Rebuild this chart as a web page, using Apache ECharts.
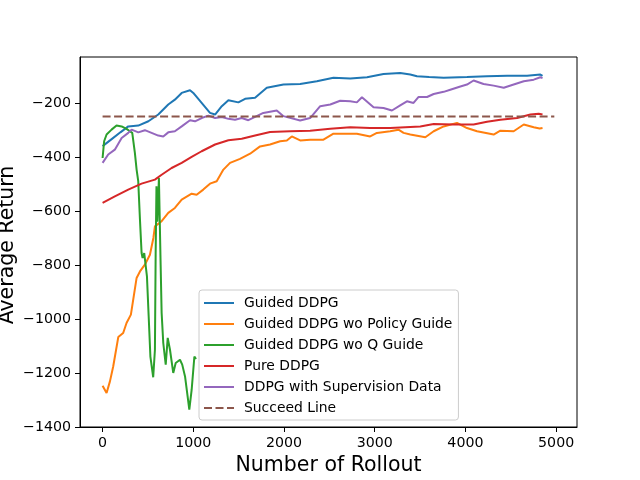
<!DOCTYPE html>
<html>
<head>
<meta charset="utf-8">
<script src="https://cdn.jsdelivr.net/npm/echarts@6/dist/echarts.min.js"></script>
<style>
  html, body { margin: 0; padding: 0; background: #fff; }
  #chart { width: 640px; height: 480px; }
</style>
</head>
<body>
<div id="chart"></div>
<script>
// tick labels
var xTicks = [0, 1000, 2000, 3000, 4000, 5000];
var yTicks = [-1400, -1200, -1000, -800, -600, -400, -200];

// Guided DDPG
var guidedX = [0, 100, 200, 283, 394, 505, 614, 724, 797, 872, 964, 1000, 1092, 1184, 1240, 1314, 1387, 1497, 1571, 1681, 1810, 1994, 2178, 2362, 2545, 2730, 2915, 3097, 3281, 3392, 3466, 3600, 3760, 4017, 4238, 4460, 4680, 4826, 4850];
var guidedY = [-360, -334, -308, -287, -284, -268, -243, -206, -188, -163, -153, -163, -200, -237, -243, -212, -190, -198, -185, -181, -144, -132, -130, -120, -107, -110, -105, -93, -89, -95, -101, -104, -107, -104, -101, -99, -99, -95, -100];

// Guided DDPG wo Policy Guide
var noPolicyX = [0, 44, 81, 117, 173, 227, 264, 312, 375, 412, 466, 522, 560, 577, 651, 724, 797, 872, 982, 1037, 1110, 1184, 1258, 1332, 1405, 1515, 1626, 1736, 1846, 1957, 2031, 2086, 2178, 2288, 2435, 2545, 2694, 2803, 2950, 3024, 3170, 3262, 3318, 3392, 3558, 3650, 3760, 3907, 4017, 4128, 4311, 4385, 4532, 4643, 4753, 4818, 4850];
var noPolicyY = [-1247, -1274, -1231, -1176, -1067, -1052, -1015, -984, -848, -824, -799, -762, -700, -657, -638, -607, -589, -558, -536, -540, -521, -499, -490, -447, -422, -407, -388, -361, -354, -342, -339, -324, -339, -336, -336, -314, -314, -314, -324, -311, -305, -299, -311, -317, -327, -305, -287, -274, -293, -305, -317, -303, -305, -280, -290, -295, -293];

// Guided DDPG wo Q Guide
var noQX = [0, 17, 44, 62, 99, 154, 210, 264, 301, 327, 356, 375, 393, 412, 430, 441, 448, 459, 470, 489, 508, 527, 558, 577, 585, 594, 604, 621, 640, 651, 669, 696, 718, 743, 779, 806, 853, 878, 909, 956, 982, 1012, 1030];
var noQY = [-404, -342, -317, -324, -299, -284, -287, -296, -305, -311, -385, -447, -490, -632, -756, -774, -780, -756, -756, -842, -990, -1139, -1216, -1114, -760, -509, -640, -478, -800, -978, -1089, -1169, -1070, -1114, -1200, -1163, -1151, -1169, -1213, -1336, -1262, -1139, -1148];

// Pure DDPG
var pureX = [0, 135, 283, 430, 577, 651, 761, 872, 982, 1092, 1240, 1387, 1534, 1681, 1846, 2067, 2288, 2510, 2730, 2950, 3170, 3392, 3502, 3650, 3870, 4090, 4238, 4385, 4570, 4716, 4808, 4850];
var pureY = [-570, -546, -521, -499, -484, -466, -441, -422, -400, -379, -354, -338, -333, -321, -308, -305, -303, -296, -290, -293, -293, -289, -287, -278, -280, -280, -270, -262, -256, -243, -240, -243];

// DDPG with Supervision Data
var superX = [0, 62, 135, 210, 283, 320, 394, 466, 540, 614, 669, 724, 797, 872, 964, 1019, 1092, 1166, 1240, 1314, 1387, 1460, 1534, 1607, 1681, 1772, 1920, 1994, 2178, 2288, 2399, 2510, 2619, 2730, 2803, 2859, 2987, 3097, 3190, 3281, 3355, 3428, 3484, 3577, 3650, 3760, 3833, 3944, 4017, 4090, 4200, 4311, 4422, 4532, 4643, 4753, 4826, 4850];
var superY = [-422, -391, -373, -330, -311, -299, -309, -301, -311, -321, -324, -309, -305, -287, -264, -268, -256, -247, -256, -252, -259, -262, -256, -264, -252, -237, -228, -249, -265, -256, -212, -206, -192, -194, -198, -179, -216, -219, -228, -209, -194, -200, -178, -178, -167, -159, -151, -139, -132, -117, -130, -136, -144, -132, -120, -114, -105, -108];

// Succeed Line
var succeedX = [0, 4980];
var succeedY = [-250, -250];

function pairs(xs, ys) {
  var out = [];
  for (var i = 0; i < xs.length; i++) out.push([xs[i], ys[i]]);
  return out;
}

function minusFmt(v) {
  return String(v).replace('-', '\u2212');
}

var font = 'DejaVu Sans';

function mkLine(name, xs, ys, color, dashed) {
  return {
    name: name,
    type: 'line',
    data: pairs(xs, ys),
    symbol: 'none',
    showSymbol: false,
    smooth: false,
    lineStyle: { color: color, width: 2, type: dashed ? [8, 3.5] : 'solid' },
    itemStyle: { color: color },
    emphasis: { disabled: true }
  };
}

var myChart = echarts.init(document.getElementById('chart'));

var option = {
  animation: false,
  backgroundColor: '#ffffff',
  grid: {
    left: 80, right: 63, top: 57, bottom: 53,
    outerBoundsMode: 'none',
    containLabel: false,
    show: true, borderColor: '#000', borderWidth: 1
  },
  // y axis title, placed like the matplotlib ylabel
  graphic: [{
    type: 'text',
    x: 8, y: 245,
    rotation: Math.PI / 2,
    style: {
      text: 'Average Return',
      font: '20.5px "DejaVu Sans"',
      fill: '#000',
      align: 'center',
      verticalAlign: 'middle'
    }
  }],
  legend: {
    orient: 'vertical',
    left: 199, top: 290,
    padding: [6, 6, 5, 4],
    itemGap: 7,
    itemWidth: 30,
    itemHeight: 14,
    borderColor: '#cccccc',
    borderWidth: 1,
    borderRadius: 3,
    backgroundColor: 'rgba(255,255,255,0.8)',
    itemStyle: { opacity: 0 },
    textStyle: { fontFamily: font, fontSize: 13.9, color: '#000', padding: [0, 0, 0, 5] }
  },
  xAxis: {
    type: 'value',
    min: -249, max: 5230,
    name: 'Number of Rollout',
    nameLocation: 'middle',
    nameGap: 25,
    nameTextStyle: { fontFamily: font, fontSize: 20.5, color: '#000' },
    axisLine: { show: true, onZero: false, lineStyle: { color: '#000', width: 1 } },
    axisTick: { show: true, customValues: xTicks, length: 5, lineStyle: { color: '#000' } },
    axisLabel: { customValues: xTicks, margin: 9, fontFamily: font, fontSize: 14.2, color: '#000', formatter: minusFmt },
    splitLine: { show: false }
  },
  yAxis: {
    type: 'value',
    min: -1400, max: -30,
    axisLine: { show: true, onZero: false, lineStyle: { color: '#000', width: 1 } },
    axisTick: { show: true, customValues: yTicks, length: 5, lineStyle: { color: '#000' } },
    axisLabel: { customValues: yTicks, margin: 9, fontFamily: font, fontSize: 14.2, color: '#000', formatter: minusFmt },
    splitLine: { show: false }
  },
  series: [
    mkLine('Guided DDPG', guidedX, guidedY, '#1f77b4'),
    mkLine('Guided DDPG wo Policy Guide', noPolicyX, noPolicyY, '#ff7f0e'),
    mkLine('Guided DDPG wo Q Guide', noQX, noQY, '#2ca02c'),
    mkLine('Pure DDPG', pureX, pureY, '#d62728'),
    mkLine('DDPG with Supervision Data', superX, superY, '#9467bd'),
    mkLine('Succeed Line', succeedX, succeedY, '#8c564b', true)
  ]
};

myChart.setOption(option);
</script>
</body>
</html>
